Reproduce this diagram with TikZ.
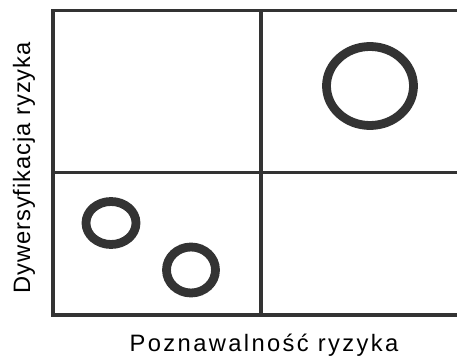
\documentclass[tikz,border=0pt]{standalone}
\usepackage{fontspec}
\setmainfont{Liberation Sans}
\newfontfamily\axisfont[LetterSpace=10]{Liberation Sans}
\newfontfamily\axisfontv[LetterSpace=4]{Liberation Sans}
\usetikzlibrary{positioning}
\definecolor{qdark}{HTML}{333333}

\begin{document}
\begin{tikzpicture}[x=0.75pt,y=-0.75pt]
 \tikzset{frameline/.style={qdark,line width=2.4pt},
  ringline/.style={qdark,line width=6.6pt},
  axislabel/.style={inner sep=0pt,font=\fontsize{17.8}{20}\selectfont}}
 \useasboundingbox (0,0) rectangle (457,359);
 \clip (0,0) rectangle (457,359);
 \fill[white] (0,0) rectangle (457,359);
 % quadrants
 \draw[frameline] (53,10.5) rectangle (475,315);
 \draw[frameline,line width=2.8pt] (261,10.5) -- (261,315);
 \draw[frameline] (53,172.5) -- (475,172.5);
 % rings
 \draw[ringline] (370,86) ellipse (43.5 and 39.5);
 \draw[ringline] (111,223) ellipse (25 and 21.5);
 \draw[ringline] (191,270) ellipse (24.5 and 23);
 % axis labels
 \node[axislabel,anchor=base] (xlab) at (264,352) {\axisfont Poznawalność ryzyka};
 \node[axislabel,anchor=base,rotate=90] (ylab) at (30,168) {\axisfontv Dywersyfikacja ryzyka};
\end{tikzpicture}
\end{document}
